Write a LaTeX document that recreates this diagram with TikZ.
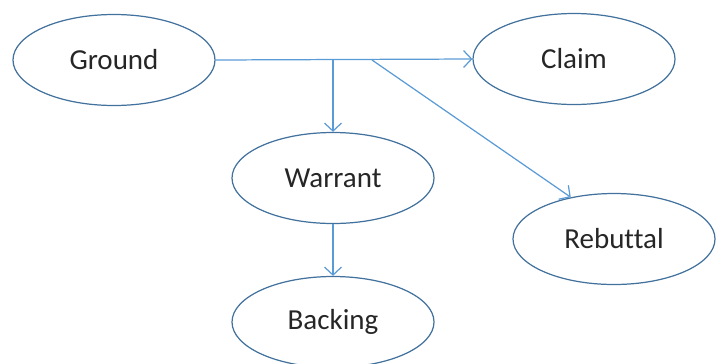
\documentclass[tikz,border=0pt]{standalone}
\usepackage{fontspec}
\setmainfont{Carlito}[Ligatures=CommonOff]
\usepackage{tikz}
\usetikzlibrary{shapes.geometric,arrows.meta}

\definecolor{edgeblue}{RGB}{65,113,156}
\definecolor{lineblue}{RGB}{91,155,213}

\tikzset{
  part/.style={ellipse, draw=edgeblue, line width=0.7pt, minimum width=4.04cm,
    minimum height=1.82cm, inner sep=0pt, font=\fontsize{16.5}{18}\selectfont, text=black!85},
  link/.style={->, draw=lineblue, line width=0.7pt}
}

\begin{document}
\begin{tikzpicture}[>={Straight Barb[length=1.6mm,width=3.4mm]}]
\useasboundingbox (0,0) rectangle (14.36,7.26);

\node[part] (ground) at (2.28,6.06) {Ground};
\node[part] (claim) at (11.48,6.08) {Claim};
\node[part] (warrant) at (6.66,3.70) {Warrant};
\node[part] (rebuttal) at (12.28,2.48) {Rebuttal};
\node[part] (backing) at (6.66,0.82) {Backing};

\coordinate (split1) at (6.66,6.06);
\coordinate (split2) at (7.44,6.06);

\draw[link] (ground.east) -- (claim.west);
\draw[link] (split1) -- (warrant.north);
\draw[link] (split2) -- (rebuttal.136);
\draw[link] (warrant.south) -- (backing.north);
\end{tikzpicture}
\end{document}
